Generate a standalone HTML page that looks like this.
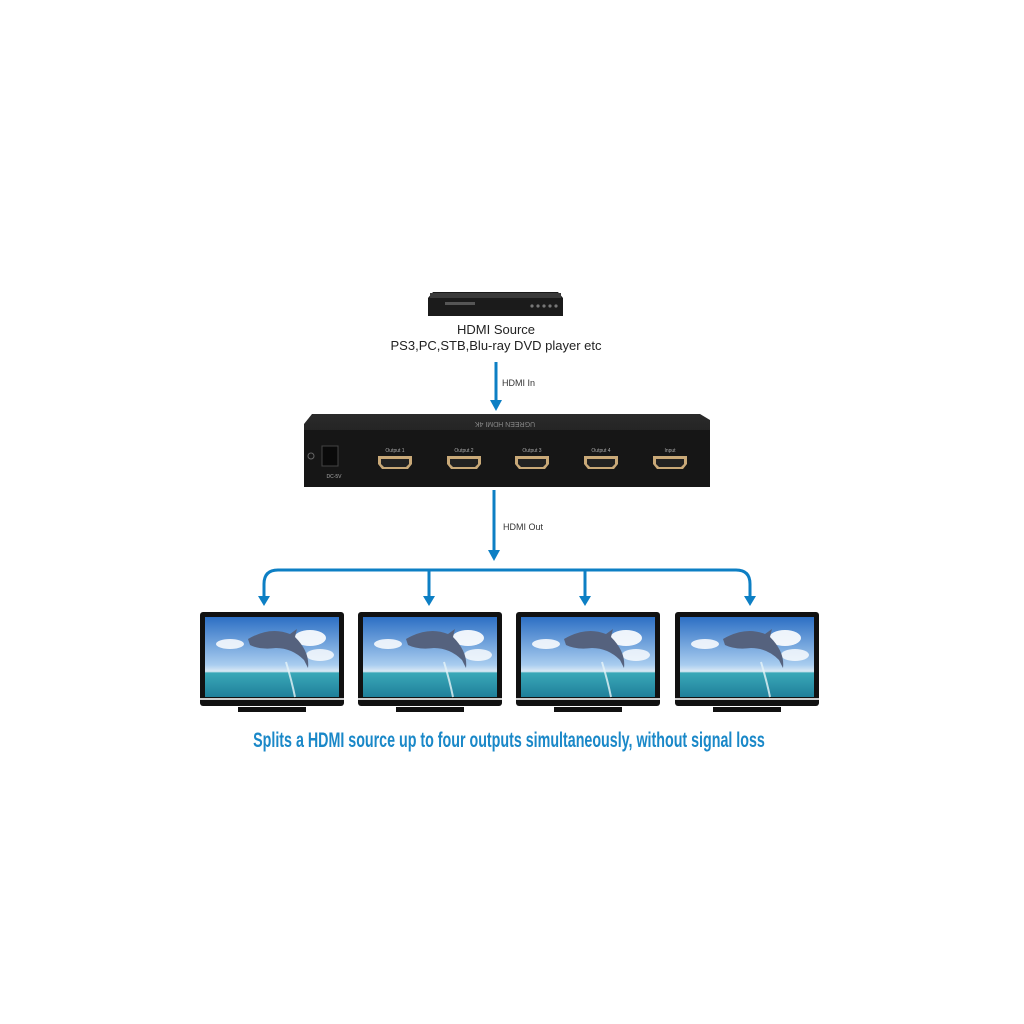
<!DOCTYPE html>
<html><head><meta charset="utf-8"><style>
html,body{margin:0;padding:0;background:#fff;width:1024px;height:1024px;overflow:hidden}
svg{display:block}
</style></head><body>
<svg width="1024" height="1024" viewBox="0 0 1024 1024" xmlns="http://www.w3.org/2000/svg">
<defs>
<linearGradient id="sky" x1="0" y1="0" x2="0" y2="1">
<stop offset="0" stop-color="#2d6fc4"/><stop offset="0.6" stop-color="#a9cdef"/><stop offset="0.68" stop-color="#dbe9f5"/>
<stop offset="0.7" stop-color="#3aa8b8"/><stop offset="1" stop-color="#1f7f9a"/></linearGradient>
<linearGradient id="box" x1="0" y1="0" x2="0" y2="1"><stop offset="0" stop-color="#2a2a2a"/><stop offset="1" stop-color="#111"/></linearGradient>
<g id="tv">
<rect x="0" y="0" width="144" height="94" rx="3" fill="#111"/>
<rect x="5" y="5" width="134" height="80" fill="url(#sky)"/>
<ellipse cx="110" cy="26" rx="16" ry="8" fill="#fff" opacity="0.9"/>
<ellipse cx="30" cy="32" rx="14" ry="5" fill="#fff" opacity="0.85"/>
<ellipse cx="120" cy="43" rx="14" ry="6" fill="#fff" opacity="0.8"/>
<path d="M48 27 Q70 14 90 22 L97 17 L95 25 Q110 40 108 56 L104 48 Q92 36 76 36 Q60 38 50 33 Z" fill="#55627e"/>
<path d="M86 50 Q92 70 95 85" stroke="#e6f4f8" stroke-width="2" fill="none" opacity="0.8"/>
<rect x="0" y="86" width="144" height="2" fill="#ccc"/>
<rect x="38" y="95" width="68" height="5" fill="#111"/>
</g>
<g id="port">
<path d="M0 0 H34 V8 L30 13 H4 L0 8 Z" fill="#c9a978"/>
<path d="M3 3 H31 V8 L28 11 H6 L3 8 Z" fill="#222"/>
</g>
</defs>

<path d="M433 292 H558 L563 298 V316 H428 V298 Z" fill="#1b1b1b"/>
<rect x="430" y="293" width="131" height="5" fill="#3a3a3a"/>
<rect x="445" y="302" width="30" height="3" fill="#555"/>
<circle cx="532" cy="306" r="1.6" fill="#777"/><circle cx="538" cy="306" r="1.6" fill="#777"/>
<circle cx="544" cy="306" r="1.6" fill="#777"/><circle cx="550" cy="306" r="1.6" fill="#777"/><circle cx="556" cy="306" r="1.6" fill="#777"/>

<text x="496" y="334" font-family="Liberation Sans, sans-serif" font-size="13" text-anchor="middle" fill="#222">HDMI Source</text>
<text x="496" y="350" font-family="Liberation Sans, sans-serif" font-size="13" text-anchor="middle" fill="#222">PS3,PC,STB,Blu-ray DVD player etc</text>

<line x1="496" y1="362" x2="496" y2="402" stroke="#0d7fc4" stroke-width="3"/>
<path d="M490 400 L502 400 L496 411 Z" fill="#0d7fc4"/>
<text x="502" y="386" font-family="Liberation Sans, sans-serif" font-size="9" fill="#333">HDMI  In</text>

<path d="M312 414 H700 L710 420 V487 H304 V424 Z" fill="url(#box)"/>
<rect x="304" y="430" width="406" height="57" fill="#161616"/>
<text x="505" y="428" font-family="Liberation Sans, sans-serif" font-size="7" text-anchor="middle" fill="#888" transform="rotate(180 505 425)">UGREEN HDMI 4K</text>
<circle cx="311" cy="456" r="3" fill="none" stroke="#666"/>
<rect x="322" y="446" width="16" height="20" fill="#0a0a0a" stroke="#444"/>
<text x="334" y="478" font-family="Liberation Sans, sans-serif" font-size="5" text-anchor="middle" fill="#aaa">DC-5V</text>
<g font-family="Liberation Sans, sans-serif" font-size="5" fill="#aaa" text-anchor="middle">
<text x="395" y="452">Output 1</text><text x="464" y="452">Output 2</text><text x="532" y="452">Output 3</text><text x="601" y="452">Output 4</text><text x="670" y="452">Input</text>
</g>
<use href="#port" x="378" y="456"/><use href="#port" x="447" y="456"/><use href="#port" x="515" y="456"/><use href="#port" x="584" y="456"/><use href="#port" x="653" y="456"/>

<line x1="494" y1="490" x2="494" y2="552" stroke="#0d7fc4" stroke-width="3"/>
<path d="M488 550 L500 550 L494 561 Z" fill="#0d7fc4"/>
<text x="503" y="530" font-family="Liberation Sans, sans-serif" font-size="9" fill="#333">HDMI Out</text>

<path d="M264 596 V584 Q264 570 278 570 H736 Q750 570 750 584 V596" fill="none" stroke="#0d7fc4" stroke-width="3"/>
<line x1="429" y1="570" x2="429" y2="596" stroke="#0d7fc4" stroke-width="3"/>
<line x1="585" y1="570" x2="585" y2="596" stroke="#0d7fc4" stroke-width="3"/>
<g fill="#0d7fc4">
<path d="M258 596 L270 596 L264 606 Z"/><path d="M423 596 L435 596 L429 606 Z"/>
<path d="M579 596 L591 596 L585 606 Z"/><path d="M744 596 L756 596 L750 606 Z"/>
</g>

<use href="#tv" x="200" y="612"/><use href="#tv" x="358" y="612"/><use href="#tv" x="516" y="612"/><use href="#tv" x="675" y="612"/>

<text x="0" y="0" font-family="Liberation Sans, sans-serif" font-weight="bold" font-size="21" fill="#1a88c8" text-anchor="middle" transform="translate(509 747) scale(0.68 1)">Splits a HDMI source up to four outputs simultaneously, without signal loss</text>
</svg>
</body></html>
